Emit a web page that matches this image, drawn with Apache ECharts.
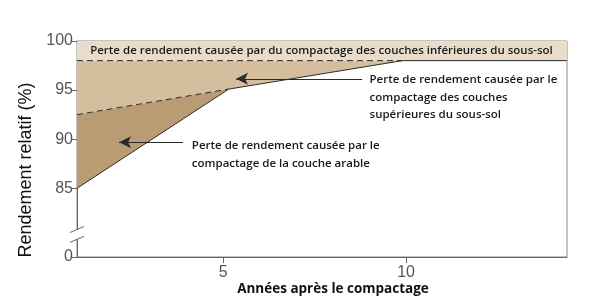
<!DOCTYPE html>
<html>
<head>
<meta charset="utf-8">
<script src="https://cdn.jsdelivr.net/npm/echarts@6/dist/echarts.min.js"></script>
<style>
  html, body { margin: 0; padding: 0; background: #fff; }
  #chart { width: 600px; height: 302px; }
</style>
</head>
<body>
<div id="chart"></div>
<script>
// Yield loss after soil compaction: three stacked loss zones (topsoil,
// upper subsoil, lower subsoil) over years since compaction.

const xRange = [1, 14.4];
const yRange = [78, 100];            // 78 sits at the axis break, shown as "0"
const xTicks = [5, 10];
const yTicks = [78, 85, 90, 95, 100];
const yTickLabels = ["0", "85", "90", "95", "100"];

// boundaries (years, relative yield %)
const topsoilSolid = [[1, 85], [5.15, 95.1], [9.9, 98]];
const topsoilDashed = [[1, 92.5], [5.15, 95.1]];
const deepDashed = [[1, 98], [9.9, 98]];
const deepSolid = [[9.9, 98], [14.4, 98]];
const deepTop = [[1, 100], [14.4, 100]];

// annotation text + arrows (data coords)
const labels = [
  { at: [1.36, 99.0], text: "Perte de rendement causée par du compactage des couches inférieures du sous-sol" },
  { at: [9.0, 96.9], text: "Perte de rendement causée par le\ncompactage des couches\nsupérieures du sous-sol" },
  { at: [4.14, 90.2], text: "Perte de rendement causée par le\ncompactage de la couche arable" },
];
const arrows = [
  [[8.8, 96.15], [5.35, 96.15]],
  [[3.9, 89.7], [2.15, 89.7]],
];

const zones = [
  { pts: [deepDashed[0], deepSolid[1], deepTop[1], deepTop[0]], color: "#eadccb" },
  { pts: [topsoilDashed[0], topsoilDashed[1], topsoilSolid[2], deepDashed[0]], color: "#d5be9e" },
  { pts: [topsoilSolid[0], topsoilSolid[1], topsoilDashed[0]], color: "#b99b74" },
];

const INK = "#2b2b2b";
const AXIS = "#666";
const TICKFONT = "'Liberation Sans Narrow', 'Liberation Sans', Arial, sans-serif";
const NOTEFONT = "'Open Sans', 'Noto Sans', sans-serif";

function zoneSeries(z) {
  return {
    type: "custom", silent: true, z: 1,
    data: [z.pts[0]],
    renderItem: (params, api) => ({
      type: "polygon",
      shape: { points: z.pts.map((p) => api.coord(p)) },
      style: { fill: z.color },
    }),
  };
}

function lineSeries(data, dashed) {
  return {
    type: "line", data, symbol: "none", silent: true, z: 3,
    lineStyle: { color: INK, width: 1, type: dashed ? [6, 4] : "solid" },
  };
}

const chart = echarts.init(document.getElementById("chart"));
chart.setOption({
  animation: false,
  grid: { left: 77, right: 33, top: 41, bottom: 45, show: true, borderColor: "#888", borderWidth: 1 },
  xAxis: {
    type: "value", min: xRange[0], max: xRange[1],
    splitLine: { show: false },
    axisLine: { lineStyle: { color: AXIS } },
    axisTick: { customValues: xTicks, length: 6, lineStyle: { color: AXIS } },
    axisLabel: { customValues: xTicks, color: "#555", fontSize: 16, fontFamily: TICKFONT, margin: 8 },
  },
  yAxis: {
    type: "value", min: yRange[0], max: yRange[1],
    splitLine: { show: false },
    axisLine: { show: true, lineStyle: { color: AXIS } },
    axisTick: { customValues: yTicks, length: 6, lineStyle: { color: AXIS } },
    axisLabel: {
      customValues: yTicks, color: "#555", fontSize: 16, fontFamily: TICKFONT, margin: 4,
      formatter: (v) => yTickLabels[yTicks.indexOf(v)] ?? "",
    },
  },
  series: [
    ...zones.map(zoneSeries),
    lineSeries(topsoilSolid, false),
    lineSeries(topsoilDashed, true),
    lineSeries(deepDashed, true),
    lineSeries(deepSolid, false),
    {
      type: "line", data: [], silent: true, z: 4,
      markLine: {
        silent: true, animation: false,
        symbol: ["none", "arrow"], symbolSize: [9, 12],
        lineStyle: { color: INK, width: 1, type: "solid" },
        label: { show: false },
        data: arrows.map(([a, b]) => [{ coord: a }, { coord: b }]),
      },
    },
  ],
});

// text overlays and axis-break marks, placed through the grid's own scales
const px = (p) => chart.convertToPixel({ gridIndex: 0 }, p);
const brk1 = px([xRange[0], 80.8]);
const brk2 = px([xRange[0], 79.8]);
chart.setOption({
  graphic: [
    ...labels.map((l, i) => {
      const [x, y] = px(l.at);
      return {
        type: "text", x, y, z: 10,
        style: {
          text: l.text, fill: "#1a1a1a", font: `600 11.5px ${NOTEFONT}`,
          lineHeight: 17.5, verticalAlign: i === 0 ? "middle" : "top",
        },
      };
    }),
    { type: "rect", z: 10, shape: { x: brk2[0] - 1, y: brk1[1], width: 2, height: brk2[1] - brk1[1] }, style: { fill: "#fff" } },
    { type: "line", z: 11, shape: { x1: brk1[0] - 7, y1: brk1[1] + 3, x2: brk1[0] + 7, y2: brk1[1] - 3 }, style: { stroke: AXIS, lineWidth: 1 } },
    { type: "line", z: 11, shape: { x1: brk2[0] - 7, y1: brk2[1] + 3, x2: brk2[0] + 7, y2: brk2[1] - 3 }, style: { stroke: AXIS, lineWidth: 1 } },
    {
      type: "text", x: 26, y: 170, rotation: Math.PI / 2, z: 10,
      style: { text: "Rendement relatif (%)", fill: "#111", font: `18px ${TICKFONT}`, align: "center", verticalAlign: "middle" },
    },
    {
      type: "text", x: 333, y: 289, z: 10,
      style: { text: "Années après le compactage", fill: "#111", font: `bold 13.5px ${NOTEFONT}`, align: "center", verticalAlign: "middle" },
    },
  ],
});
</script>
</body>
</html>
